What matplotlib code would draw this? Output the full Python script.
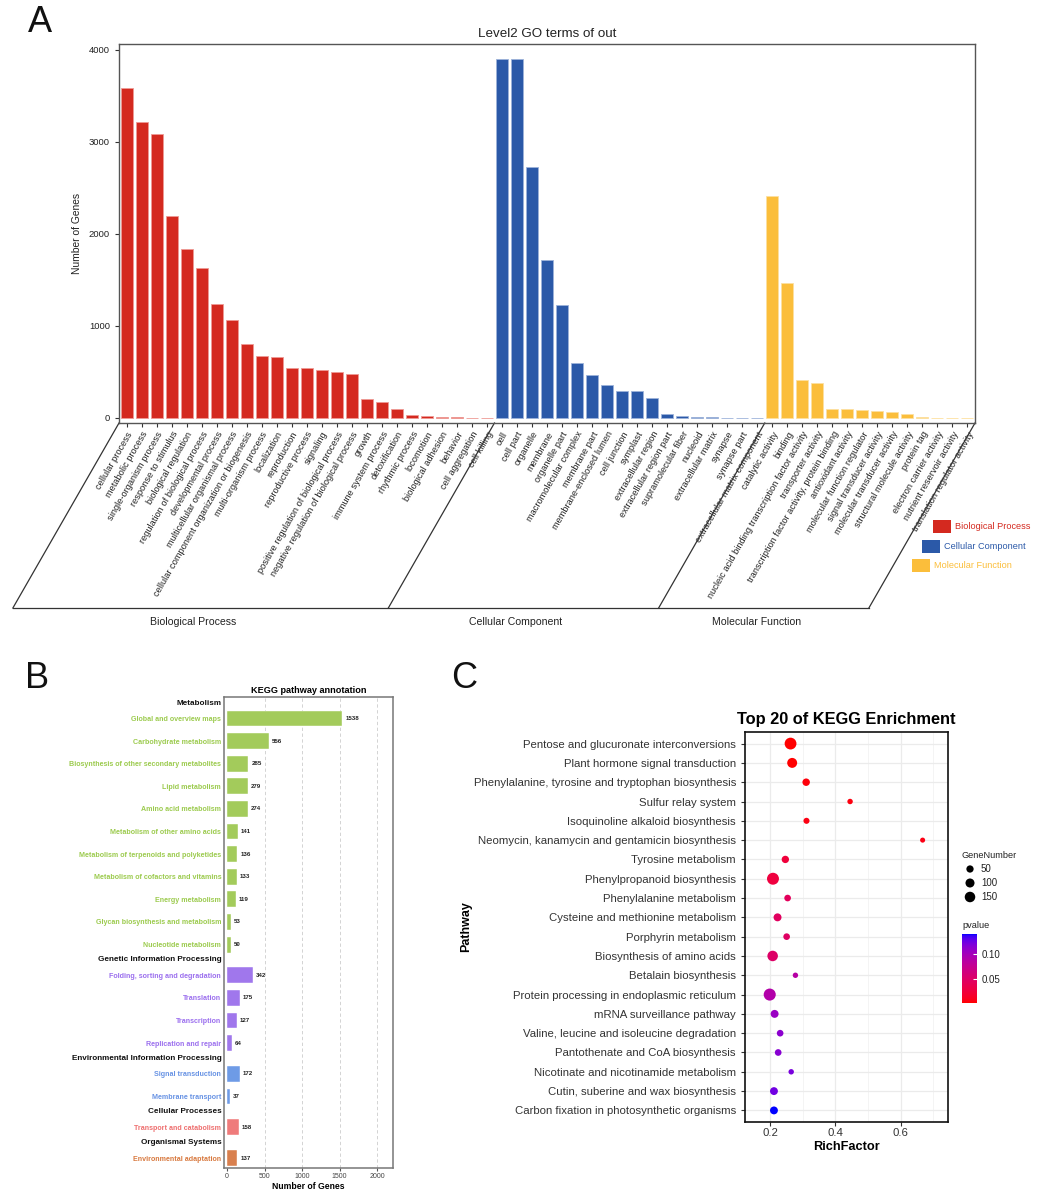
import numpy as np
import matplotlib
matplotlib.use('Agg')
import matplotlib.pyplot as plt
import matplotlib.transforms as mtransforms
from matplotlib.patches import Rectangle
from matplotlib.colors import ListedColormap, Normalize

plt.rcParams['font.family'] = ['Liberation Sans', 'DejaVu Sans']

# ---------------- panel A : GO level 2 ----------------
bp_terms = ['cellular process', 'metabolic process', 'single-organism process', 'response to stimulus',
            'biological regulation', 'regulation of biological process', 'developmental process',
            'multicellular organismal process', 'cellular component organization or biogenesis',
            'multi-organism process', 'localization', 'reproduction', 'reproductive process', 'signaling',
            'positive regulation of biological process', 'negative regulation of biological process',
            'growth', 'immune system process', 'detoxification', 'rhythmic process', 'locomotion',
            'biological adhesion', 'behavior', 'cell aggregation', 'cell killing']
bp_counts = [3590, 3217, 3087, 2191, 1839, 1625, 1240, 1063, 805, 671, 660, 548, 548, 522, 497, 479,
             207, 174, 102, 29, 22, 9, 5, 3, 2]
cc_terms = ['cell', 'cell part', 'organelle', 'membrane', 'organelle part', 'macromolecular complex',
            'membrane part', 'membrane-enclosed lumen', 'cell junction', 'symplast', 'extracellular region',
            'extracellular region part', 'supramolecular fiber', 'nucleoid', 'extracellular matrix',
            'synapse', 'synapse part', 'extracellular matrix component']
cc_counts = [3903, 3903, 2731, 1716, 1230, 598, 468, 363, 297, 294, 221, 40, 22, 10, 5, 4, 4, 3]
mf_terms = ['catalytic activity', 'binding', 'nucleic acid binding transcription factor activity',
            'transporter activity', 'transcription factor activity, protein binding', 'antioxidant activity',
            'molecular function regulator', 'signal transducer activity', 'molecular transducer activity',
            'structural molecule activity', 'protein tag', 'electron carrier activity',
            'nutrient reservoir activity', 'translation regulator activity']
mf_counts = [2412, 1462, 417, 384, 94, 94, 91, 76, 65, 47, 5, 4, 3, 3]
go_groups = ['Biological Process', 'Cellular Component', 'Molecular Function']
go_colors = ['#D4291F', '#2B59A8', '#FBBE3B']
go_edges = ['#EE9A94', '#9DB3DA', '#FDE0A0']

# ---------------- panel B : KEGG annotation ----------------
kegg_classes = ['Metabolism', 'Genetic Information Processing', 'Environmental Information Processing',
                'Cellular Processes', 'Organismal Systems']
kegg_pathways = [['Global and overview maps', 'Carbohydrate metabolism',
                  'Biosynthesis of other secondary metabolites', 'Lipid metabolism', 'Amino acid metabolism',
                  'Metabolism of other amino acids', 'Metabolism of terpenoids and polyketides',
                  'Metabolism of cofactors and vitamins', 'Energy metabolism',
                  'Glycan biosynthesis and metabolism', 'Nucleotide metabolism'],
                 ['Folding, sorting and degradation', 'Translation', 'Transcription', 'Replication and repair'],
                 ['Signal transduction', 'Membrane transport'],
                 ['Transport and catabolism'],
                 ['Environmental adaptation']]
kegg_counts = [[1538, 556, 285, 279, 274, 141, 136, 133, 119, 53, 50],
               [342, 175, 127, 64],
               [172, 37],
               [158],
               [137]]
kegg_colors = ['#A3CB5B', '#A077EC', '#6E9BE6', '#EF7B7B', '#D9804E']
kegg_text_colors = ['#9CCB4E', '#9B6FEE', '#6893E4', '#EE6E6E', '#D8793F']

# ---------------- panel C : KEGG enrichment ----------------
enrich_terms = ['Pentose and glucuronate interconversions', 'Plant hormone signal transduction',
                'Phenylalanine, tyrosine and tryptophan biosynthesis', 'Sulfur relay system',
                'Isoquinoline alkaloid biosynthesis', 'Neomycin, kanamycin and gentamicin biosynthesis',
                'Tyrosine metabolism', 'Phenylpropanoid biosynthesis', 'Phenylalanine metabolism',
                'Cysteine and methionine metabolism', 'Porphyrin metabolism', 'Biosynthesis of amino acids',
                'Betalain biosynthesis', 'Protein processing in endoplasmic reticulum',
                'mRNA surveillance pathway', 'Valine, leucine and isoleucine degradation',
                'Pantothenate and CoA biosynthesis', 'Nicotinate and nicotinamide metabolism',
                'Cutin, suberine and wax biosynthesis', 'Carbon fixation in photosynthetic organisms']
rich_factor = [0.262, 0.267, 0.310, 0.445, 0.311, 0.668, 0.246, 0.208, 0.253, 0.222,
               0.250, 0.207, 0.277, 0.198, 0.213, 0.230, 0.224, 0.264, 0.211, 0.211]
gene_number = [200, 130, 55, 10, 22, 3, 52, 205, 35, 68, 35, 150, 9, 210, 68, 35, 36, 10, 66, 66]
p_value = [0.0005, 0.001, 0.003, 0.004, 0.005, 0.006, 0.024, 0.026, 0.043, 0.045,
           0.047, 0.050, 0.088, 0.091, 0.107, 0.114, 0.116, 0.122, 0.125, 0.142]


def px_x(px):
    return px / 1044


def px_y(py):
    return 1 - py / 1200


def lab_ramp(lab0, lab1, n=256):
    # ggplot-like gradient: interpolate in CIELAB, convert to sRGB
    t = np.linspace(0, 1, n)[:, None]
    lab = np.array(lab0) * (1 - t) + np.array(lab1) * t
    fy_ = (lab[:, 0] + 16) / 116
    fx_ = fy_ + lab[:, 1] / 500
    fz_ = fy_ - lab[:, 2] / 200

    def finv(f):
        return np.where(f > 6 / 29, f ** 3, 3 * (6 / 29) ** 2 * (f - 4 / 29))
    xyz = np.stack([0.95047 * finv(fx_), finv(fy_), 1.08883 * finv(fz_)], axis=1)
    m = np.array([[3.2406, -1.5372, -0.4986], [-0.9689, 1.8758, 0.0415], [0.0557, -0.2040, 1.0570]])
    rgb = np.clip(xyz @ m.T, 0, 1)
    rgb = np.where(rgb <= 0.0031308, 12.92 * rgb, 1.055 * rgb ** (1 / 2.4) - 0.055)
    return ListedColormap(np.clip(rgb, 0, 1))


fig = plt.figure(figsize=(10.44, 12), dpi=100)

# ======== A ========
axA = fig.add_axes([px_x(119), px_y(423), px_x(975) - px_x(119), px_y(44) - px_y(423)])
terms = bp_terms + cc_terms + mf_terms
counts = bp_counts + cc_counts + mf_counts
sizes = [len(bp_terms), len(cc_terms), len(mf_terms)]
colors, edges = [], []
for c, e, n in zip(go_colors, go_edges, sizes):
    colors += [c] * n
    edges += [e] * n
x = np.arange(len(terms))
axA.bar(x, counts, width=0.8, color=colors, edgecolor=edges, linewidth=0.6)
axA.set_xlim(-0.5, len(terms) - 0.5)
axA.set_ylim(-55, 4065)
axA.set_yticks([0, 1000, 2000, 3000, 4000])
axA.set_xticks(x)
axA.set_xticklabels(terms, rotation=60, ha='right', va='top', rotation_mode='anchor',
                    fontsize=6.7, color='#222222')
axA.tick_params(axis='x', length=3, pad=2, color='#333333')
axA.tick_params(axis='y', length=3, labelsize=6.8, color='#333333', labelcolor='#222222')
for sp in axA.spines.values():
    sp.set_color('#555555')
    sp.set_linewidth(1.0)
axA.set_ylabel('Number of Genes', fontsize=7.4, color='#222222', labelpad=5)
axA.set_title('Level2 GO terms of out', fontsize=9.6, color='#222222', pad=5)

trans = axA.get_xaxis_transform()
drop = -185 / 379
shift = -106 / 15
bounds = [-0.5]
for n in sizes:
    bounds.append(bounds[-1] + n)
for b in bounds:
    axA.plot([b, b + shift], [0, drop], transform=trans, clip_on=False, color='#333333', lw=0.9)
axA.plot([bounds[0] + shift, bounds[-1] + shift], [drop, drop], transform=trans, clip_on=False,
         color='#333333', lw=0.9)
for i, g in enumerate(go_groups):
    cx = (bounds[i] + bounds[i + 1]) / 2 + shift - 0.5
    axA.text(cx, drop - 0.036, g, transform=trans, ha='center', va='center', fontsize=7.6, color='#222222')

# ======== B ========
axB = fig.add_axes([px_x(224), px_y(1168), px_x(393) - px_x(224), px_y(697) - px_y(1168)])
ypos, names, vals, bcols, tcols, heads = [], [], [], [], [], []
y = 0.0
for ci, cls in enumerate(kegg_classes):
    if ci > 0:
        y += 0.68
    heads.append((y, cls))
    for j, name in enumerate(kegg_pathways[ci]):
        y += 0.68 if j == 0 else 1.0
        ypos.append(y)
        names.append(name)
        vals.append(kegg_counts[ci][j])
        bcols.append(kegg_colors[ci])
        tcols.append(kegg_text_colors[ci])

for gx in [500, 1000, 1500, 2000]:
    axB.axvline(gx, color='#cccccc', lw=0.6, ls=(0, (4, 3)), zorder=0)
axB.barh(ypos, vals, height=0.7, color=bcols, edgecolor='white', linewidth=0.3, zorder=2)
for yy, v in zip(ypos, vals):
    axB.text(v + 40, yy, str(v), fontsize=4.4, fontweight='bold', va='center', color='#222222')
axB.set_xlim(-40, 2213)
axB.set_ylim(y + 0.44, -0.27)
axB.set_yticks(ypos)
axB.set_yticklabels(names, fontsize=5.1, fontweight='bold')
for lab, c in zip(axB.get_yticklabels(), tcols):
    lab.set_color(c)
axB.tick_params(axis='y', length=0, pad=2)
axB.set_xticks([0, 500, 1000, 1500, 2000])
axB.tick_params(axis='x', length=2, labelsize=5.0, pad=1.5, color='#555555', labelcolor='#444444')
btrans = mtransforms.blended_transform_factory(axB.transAxes, axB.transData)
for hy, cls in heads:
    axB.text(-0.012, hy, cls, transform=btrans, ha='right', va='center', fontsize=5.9,
             fontweight='bold', color='#111111')
for sp in axB.spines.values():
    sp.set_color('#777777')
    sp.set_linewidth(1.1)
axB.set_xlabel('Number of Genes', fontsize=6.2, fontweight='bold', labelpad=1.5)
axB.set_title('KEGG pathway annotation', fontsize=6.6, fontweight='bold', pad=3)

# ======== C ========
cmap = lab_ramp((53.24, 80.09, 67.20), (32.30, 79.19, -107.86))
norm = Normalize(vmin=min(p_value), vmax=max(p_value))
axC = fig.add_axes([px_x(745), px_y(1122), px_x(948) - px_x(745), px_y(732) - px_y(1122)])
yc = np.arange(len(enrich_terms))[::-1]
sc = axC.scatter(rich_factor, yc, s=12.4 + 0.3 * np.array(gene_number), c=p_value, cmap=cmap, norm=norm,
                 edgecolors='none', zorder=3)
axC.set_xlim(0.122, 0.746)
axC.set_ylim(-0.6, len(enrich_terms) - 0.4)
axC.set_yticks(yc)
axC.set_yticklabels(enrich_terms, fontsize=8.2, color='#333333')
axC.set_xticks([0.2, 0.4, 0.6])
axC.set_xticklabels(['0.2', '0.4', '0.6'])
axC.set_xticks([0.3, 0.5, 0.7], minor=True)
axC.tick_params(axis='both', which='major', length=3, color='#333333', labelsize=8.2, labelcolor='#333333')
axC.tick_params(axis='x', which='major', pad=1.5)
axC.tick_params(axis='x', which='minor', length=0)
axC.set_axisbelow(True)
axC.grid(True, which='major', color='#EBEBEB', lw=0.9)
axC.grid(True, which='minor', axis='x', color='#F2F2F2', lw=0.6)
for sp in axC.spines.values():
    sp.set_color('#111111')
    sp.set_linewidth(1.2)
axC.set_xlabel('RichFactor', fontsize=9.2, fontweight='bold', labelpad=2)
axC.set_ylabel('Pathway', fontsize=9.0, fontweight='bold', labelpad=1)
axC.set_title('Top 20 of KEGG Enrichment', fontsize=11.8, fontweight='bold', pad=6)

cax = fig.add_axes([px_x(962), px_y(1003), px_x(977) - px_x(962), px_y(934) - px_y(1003)])
cb = fig.colorbar(sc, cax=cax, ticks=[0.05, 0.10])
cb.ax.set_yticklabels(['0.05', '0.10'])
cb.outline.set_visible(False)
cb.ax.tick_params(length=3, width=0.8, color='white', direction='in', labelsize=7, pad=3,
                  labelcolor='#222222')

# ======== overlay: letters and manual legends ========
ov = fig.add_axes([0, 0, 1, 1], facecolor='none')
ov.set_xlim(0, 1044)
ov.set_ylim(1200, 0)
ov.axis('off')
ov.text(40, 23, 'A', fontsize=26, ha='center', va='center', color='#111111')
ov.text(37, 678, 'B', fontsize=26, ha='center', va='center', color='#111111')
ov.text(464, 678, 'C', fontsize=26, ha='center', va='center', color='#111111')

leg_x = [933, 922, 912]
leg_y = [520, 540, 559]
for g, c, lx, ly in zip(go_groups, go_colors, leg_x, leg_y):
    ov.add_patch(Rectangle((lx, ly), 18, 13, facecolor=c, edgecolor='none'))
    ov.text(lx + 22, ly + 6.5, g, fontsize=6.6, color=c, va='center', ha='left')

ov.text(962, 855, 'GeneNumber', fontsize=6.6, va='center', ha='left', color='#222222')
leg_sizes = [50, 100, 150]
ov.scatter([970] * 3, [869, 883, 897], s=12.4 + 0.3 * np.array(leg_sizes), color='black', edgecolors='none')
for yy, v in zip([869, 883, 897], leg_sizes):
    ov.text(981, yy, str(v), fontsize=7, va='center', ha='left', color='#222222')
ov.text(962, 926, 'pvalue', fontsize=6.6, va='center', ha='left', color='#222222')

fig.savefig('out.png', dpi=100)
